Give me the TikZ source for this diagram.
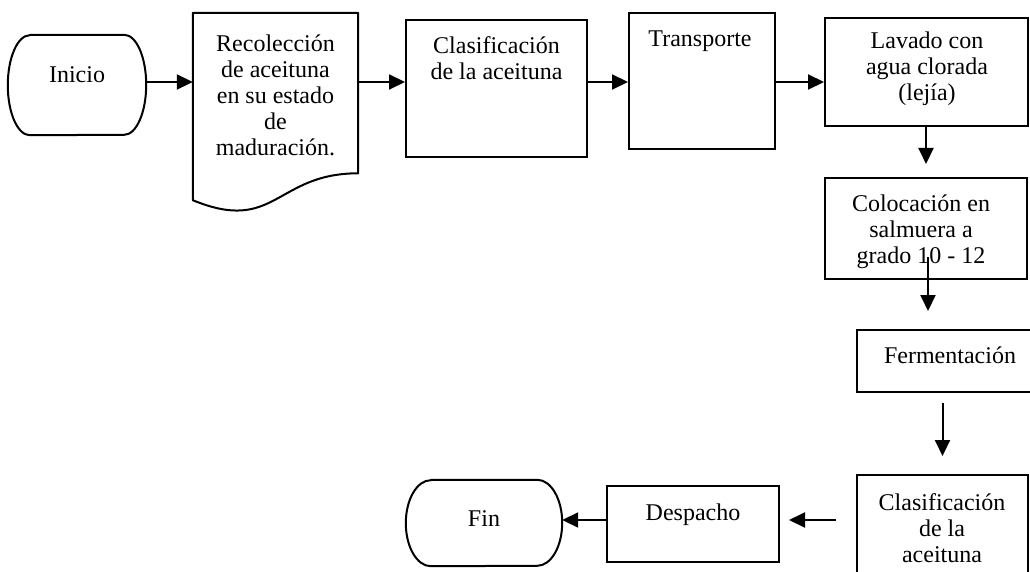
\documentclass[tikz,border=0pt]{standalone}
\usepackage{fontspec}
\setmainfont{Liberation Serif}
\usetikzlibrary{arrows.meta,calc}
\begin{document}
\begin{tikzpicture}[x=1pt,y=-1pt,
  boxn/.style={draw, line width=2pt, inner sep=0pt},
  ghost/.style={inner sep=0pt},
  outline/.style={line width=2pt, line join=round},
  lbl/.style={font=\fontsize{24}{26}\selectfont, align=center, anchor=base, inner sep=0pt},
  arr/.style={line width=2pt, -{Triangle[length=16pt,width=15pt]}},
]
\useasboundingbox (0,0) rectangle (1030,572);

% shapes
\node[ghost, minimum width=138pt, minimum height=100pt] (ini) at (77,85) {};
\node[ghost, minimum width=165pt, minimum height=187pt] (rec) at (275.5,106.5) {};
\node[boxn, minimum width=181pt, minimum height=137pt] (cla1) at (496.5,88.5) {};
\node[boxn, minimum width=146pt, minimum height=136pt] (tra) at (702,81) {};
\node[boxn, minimum width=203pt, minimum height=108pt] (lav) at (926.5,72) {};
\node[boxn, minimum width=202pt, minimum height=101pt] (col) at (926,228.5) {};
\node[boxn, minimum width=178pt, minimum height=62pt] (fer) at (946,361) {};
\node[boxn, minimum width=171pt, minimum height=105pt] (cla2) at (942.5,527.5) {};
\node[boxn, minimum width=172pt, minimum height=76pt] (des) at (693,524) {};
\node[ghost, minimum width=156pt, minimum height=86pt] (fin) at (484,523) {};

% terminator outlines
\draw[outline] ([xshift=22pt]ini.north west) -- ([xshift=-22pt]ini.north east)
  arc[start angle=-90, end angle=90, x radius=22, y radius=50]
  -- ([xshift=22pt]ini.south west)
  arc[start angle=90, end angle=270, x radius=22, y radius=50] -- cycle;
\draw[outline] ([xshift=25pt]fin.north west) -- ([xshift=-25pt]fin.north east)
  arc[start angle=-90, end angle=90, x radius=25, y radius=43]
  -- ([xshift=25pt]fin.south west)
  arc[start angle=90, end angle=270, x radius=25, y radius=43] -- cycle;

% document outline
\draw[outline] (rec.north west) -- (rec.north east) -- ($(rec.north east)+(0,160.5)$)
  .. controls ($(rec.north)+(0,160.5)$) and ($(rec.north)+(0,221.5)$) .. (rec.south west) -- cycle;

% labels (base = baseline of the last line)
\node[lbl] (tini) at (77,83) {Inicio};
\node[lbl] (trec) at (275.5,156) {Recolección\\de aceituna\\en su estado\\de\\maduración.};
\node[lbl] (tcla1) at (496.5,80) {Clasificación\\de la aceituna};
\node[lbl] (ttra) at (700,47) {Transporte};
\node[lbl] (tlav) at (927,101) {Lavado con\\agua clorada\\(lejía)};
\node[lbl] (tcol) at (921,263) {Colocación en\\salmuera a\\grado 10 - 12};
\node[lbl] (tfer) at (950,363) {Fermentación};
\node[lbl] (tcla2) at (942,562) {Clasificación\\de la\\aceituna};
\node[lbl] (tdes) at (693,520) {Despacho};
\node[lbl] (tfin) at (484,526) {Fin};

% connectors
\coordinate (row1) at (0,82);
\coordinate (row3) at (0,520);
\coordinate (c6s) at (928,257);
\draw[arr] (ini.east |- row1) -- (rec.west |- row1);
\draw[arr] (rec.east |- row1) -- (cla1.west |- row1);
\draw[arr] (cla1.east |- row1) -- (tra.west |- row1);
\draw[arr] (tra.east |- row1) -- (lav.west |- row1);
\draw[arr, shorten >=13pt] (lav.south -| col.north) -- (col.north);
\draw[arr, shorten >=18pt] (c6s) -- (fer.north -| c6s);
\draw[arr, shorten <=10pt, shorten >=18pt] (fer.south -| cla2.north) -- (cla2.north);
\draw[arr, shorten <=20pt, shorten >=9pt] (cla2.west |- row3) -- (des.east |- row3);
\draw[arr] (des.west |- row3) -- (fin.east |- row3);
\end{tikzpicture}
\end{document}
